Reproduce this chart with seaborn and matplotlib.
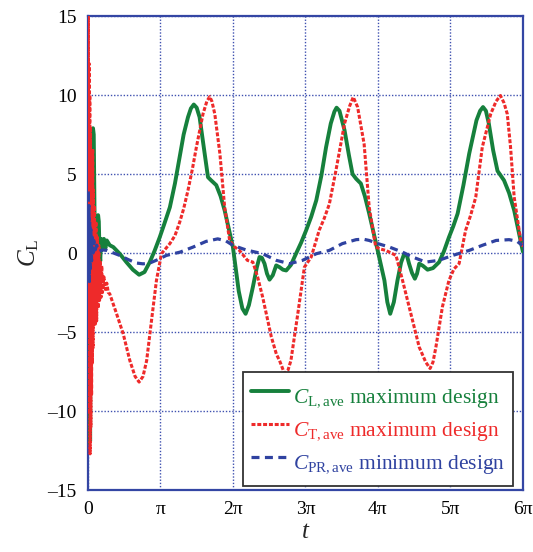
import numpy as np
import pandas as pd
import matplotlib
matplotlib.use("Agg")
import matplotlib.pyplot as plt
import seaborn as sns

# ---- data (t in units of pi) ----
t_L = [0.0, 0.01, 0.02, 0.03, 0.04, 0.05, 0.06, 0.07, 0.08, 0.09, 0.10, 0.11, 0.12, 0.13,
       0.14, 0.15, 0.16, 0.17, 0.18, 0.19, 0.20, 0.22, 0.24, 0.26, 0.30, 0.35,
       0.44, 0.53, 0.62, 0.706, 0.78, 0.853, 0.92, 0.99, 1.05, 1.13, 1.20, 1.266, 1.32,
       1.38, 1.42, 1.46, 1.50, 1.54, 1.61, 1.656, 1.70, 1.77, 1.83, 1.886, 1.94, 2.0,
       2.08, 2.13, 2.175, 2.22, 2.275, 2.33, 2.367, 2.40, 2.436, 2.47, 2.505, 2.55,
       2.597, 2.643, 2.69, 2.735, 2.80, 2.87, 2.94, 3.01, 3.08, 3.15, 3.22, 3.285, 3.35,
       3.40, 3.43, 3.47, 3.54, 3.60, 3.65, 3.70, 3.765, 3.82, 3.88, 3.94, 4.0, 4.09,
       4.13, 4.17, 4.22, 4.27, 4.32, 4.36, 4.40, 4.43, 4.47, 4.51, 4.54, 4.57, 4.62,
       4.685, 4.76, 4.845, 4.91, 4.98, 5.04, 5.10, 5.18, 5.26, 5.36, 5.41, 5.45, 5.49,
       5.53, 5.59, 5.65, 5.74, 5.81, 5.88, 5.94, 6.0]
c_L = [1.0, -12.0, 4.0, -11.9, 3.0, -6.0, 6.0, 7.9, 7.5, 3.0, -1.0, -0.5, 1.5, -1.0,
       2.4, 2.0, 0.0, -0.5, 0.9, 0.2, 0.5, 0.9, 0.3, 0.8, 0.5, 0.38,
       -0.05, -0.57, -1.05, -1.37, -1.2, -0.57, 0.15, 1.0, 1.8, 2.9, 4.4, 6.1, 7.5,
       8.6, 9.15, 9.4, 9.2, 8.6, 6.3, 4.8, 4.6, 4.3, 3.6, 2.7, 1.6, 0.38,
       -2.4, -3.5, -3.84, -3.3, -2.15, -0.9, -0.25, -0.3, -0.67, -1.3, -1.68, -1.4,
       -0.78, -0.89, -1.05, -1.1, -0.75, -0.04, 0.65, 1.44, 2.3, 3.34, 4.9, 6.7, 8.2,
       8.95, 9.2, 9.0, 7.77, 6.2, 5.0, 4.7, 4.4, 3.6, 2.5, 1.3, 0.1, -1.73,
       -3.1, -3.84, -3.1, -1.73, -0.6, -0.08, -0.15, -0.67, -1.25, -1.62, -1.3, -0.67, -0.8,
       -1.05, -0.95, -0.57, 0.1, 1.0, 1.7, 2.5, 4.3, 6.3, 8.4, 9.0, 9.24, 9.0,
       8.2, 6.5, 5.2, 4.6, 3.8, 2.7, 1.4, 0.1]

t_T = [0.0, 0.005, 0.01, 0.015, 0.02, 0.025, 0.03, 0.035, 0.04, 0.045, 0.05, 0.055,
       0.06, 0.065, 0.07, 0.075, 0.08, 0.09, 0.10, 0.11, 0.12, 0.13, 0.14, 0.15, 0.16,
       0.17, 0.18, 0.19, 0.20, 0.22, 0.24, 0.26, 0.28, 0.30, 0.395, 0.486, 0.578, 0.65,
       0.706, 0.76, 0.81, 0.877, 0.945, 1.014, 1.13, 1.20, 1.266, 1.32, 1.38, 1.44,
       1.496, 1.587, 1.64, 1.68, 1.71, 1.75, 1.82, 1.886, 1.955, 2.02, 2.09, 2.2, 2.275,
       2.34, 2.41, 2.53, 2.60, 2.643, 2.71, 2.76, 2.8, 2.895, 2.986, 3.08, 3.19, 3.26,
       3.33, 3.42, 3.54, 3.61, 3.66, 3.72, 3.81, 3.88, 3.97, 4.04, 4.11, 4.25, 4.34,
       4.455, 4.57, 4.66, 4.72, 4.76, 4.8, 4.89, 4.98, 5.05, 5.12, 5.21, 5.28, 5.35, 5.44,
       5.556, 5.63, 5.69, 5.74, 5.785, 5.83, 5.88, 5.97, 6.0]
c_T = [3.0, 15.0, -5.0, 12.0, -10.0, 10.0, -12.7, 8.0, -11.0, 6.0, -9.0, 6.5,
       -7.0, 6.6, -6.0, 4.0, -4.5, 3.0, -4.5, 2.0, -4.3, 1.0, -3.5, 0.5, -3.0,
       -0.5, -2.8, -0.8, -2.5, -1.5, -2.3, -1.9, -2.5, -2.57, -3.84, -5.1, -6.8, -7.8,
       -8.16, -7.8, -6.8, -4.26, -1.73, -0.04, 0.6, 1.1, 1.96, 2.8, 3.97, 5.3,
       6.7, 8.8, 9.6, 9.9, 9.6, 8.8, 6.3, 2.9, 0.8, 0.4, 0.17, -0.46, -0.57,
       -1.5, -2.78, -5.3, -6.4, -6.8, -7.6, -7.4, -6.8, -3.84, -0.89, -0.25, 1.44, 2.2,
       3.1, 5.2, 8.2, 9.3, 9.87, 9.24, 6.9, 2.9, 0.38, 0.25, 0.17, -0.15, -1.73,
       -3.84, -5.95, -6.9, -7.3, -6.9, -5.95, -3.4, -1.73, -1.0, -0.67, 1.44, 2.4, 3.54, 6.7,
       8.8, 9.6, 9.97, 9.5, 8.8, 6.7, 3.54, 0.8, 0.4]

t_PR = [0.0, 0.005, 0.01, 0.015, 0.02, 0.025, 0.03, 0.04, 0.05, 0.06, 0.07, 0.08,
        0.10, 0.12, 0.15, 0.20, 0.26, 0.44, 0.56, 0.67, 0.76, 0.853, 0.97, 1.08, 1.27,
        1.45, 1.63, 1.79, 1.90, 2.0, 2.18, 2.41, 2.6, 2.78, 2.96, 3.15, 3.33, 3.51, 3.7,
        3.80, 3.88, 4.0, 4.16, 4.34, 4.48, 4.66, 4.84, 5.03, 5.26, 5.44, 5.63, 5.81,
        5.92, 5.99]
c_PR = [0.0, 4.0, -1.5, 3.0, -1.8, 2.0, -1.0, 1.5, -0.5, 1.0, 0.0, 0.8,
        0.2, 0.5, 0.1, 0.2, 0.17, -0.15, -0.42, -0.63, -0.68, -0.63, -0.4, -0.15, 0.06,
        0.38, 0.74, 0.9, 0.78, 0.49, 0.2, -0.04, -0.46, -0.67, -0.46, -0.04, 0.17, 0.6, 0.85,
        0.88, 0.8, 0.6, 0.38, 0.06, -0.25, -0.57, -0.46, -0.15, 0.17, 0.49, 0.8, 0.85,
        0.75, 0.49]

x_ticks = [0, 1, 2, 3, 4, 5, 6]
x_tick_labels = ["0", "π", "2π", "3π", "4π", "5π", "6π"]
y_ticks = [-15, -10, -5, 0, 5, 10, 15]

labels = [r"$C_{\mathrm{L,ave}}$ maximum design",
          r"$C_{\mathrm{T,ave}}$ maximum design",
          r"$C_{\mathrm{PR,ave}}$ minimum design"]

GREEN = "#16803c"
RED = "#ee2a2a"
BLUE = "#2f42a0"

sns.set_theme(style="white")
plt.rcParams["font.family"] = ["Liberation Serif", "DejaVu Serif"]
plt.rcParams["mathtext.fontset"] = "custom"
plt.rcParams["mathtext.rm"] = "Liberation Serif"
plt.rcParams["mathtext.it"] = "Liberation Serif:italic"

fig = plt.figure(figsize=(5.33, 5.52), dpi=100)
ax = fig.add_axes([0.165, 0.112, 0.816, 0.859])

dfL = pd.DataFrame({"t": t_L, "c": c_L})
dfT = pd.DataFrame({"t": t_T, "c": c_T})
dfP = pd.DataFrame({"t": t_PR, "c": c_PR})

sns.lineplot(data=dfL, x="t", y="c", ax=ax, color=GREEN, lw=2.8, sort=False,
             estimator=None, label=labels[0], zorder=3)
sns.lineplot(data=dfT, x="t", y="c", ax=ax, color=RED, lw=2.2, sort=False,
             estimator=None, label=labels[1], linestyle=(0, (1.3, 0.6)), zorder=4)
sns.lineplot(data=dfP, x="t", y="c", ax=ax, color=BLUE, lw=2.3, sort=False,
             estimator=None, label=labels[2], linestyle=(0, (2.5, 1.7)), zorder=5)

ax.set_xlim(0, 6)
ax.set_ylim(-15, 15)
ax.set_xticks(x_ticks)
ax.set_xticklabels(x_tick_labels)
ax.set_yticks(y_ticks)
ax.set_yticklabels([str(v).replace("-", "\u2013") for v in y_ticks])
ax.tick_params(axis="both", labelsize=14, length=0, pad=8, colors="black")

ax.grid(True, color="#3f51b0", linestyle=(0, (1, 1.3)), linewidth=1.0)
for s in ax.spines.values():
    s.set_color("#3446a4")
    s.set_linewidth(1.6)

ax.set_xlabel(r"$t$", fontsize=18, labelpad=2)
ax.set_ylabel(r"$C_{\mathrm{L}}$", fontsize=18, labelpad=5)

leg = ax.legend(loc="lower right", bbox_to_anchor=(0.977, 0.008), fontsize=15.5,
                frameon=True, fancybox=False, edgecolor="#333333", framealpha=1,
                handlelength=1.8, handleheight=2.0, handletextpad=0.18,
                labelspacing=0.0, borderpad=0.35, borderaxespad=0)
leg.get_frame().set_linewidth(1.3)
for txt, col in zip(leg.get_texts(), [GREEN, RED, BLUE]):
    txt.set_color(col)

fig.savefig("out.png", dpi=100)
